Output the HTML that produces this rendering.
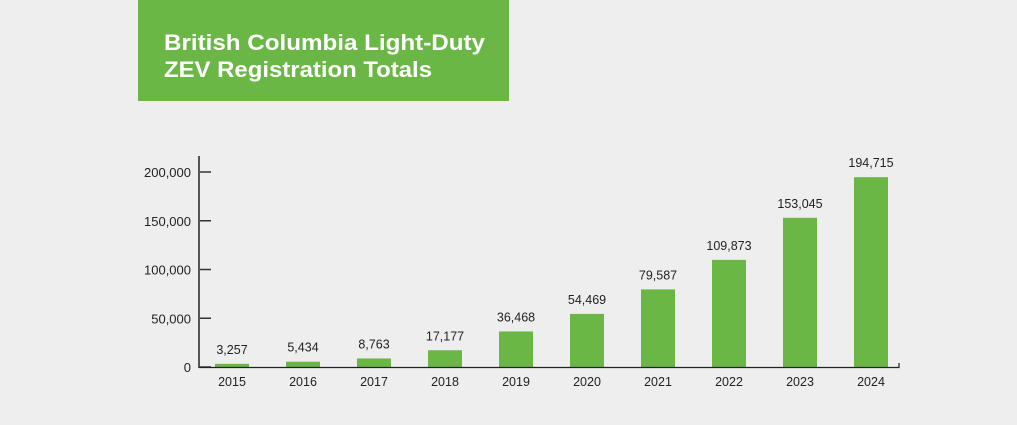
<!DOCTYPE html>
<html><head><meta charset="utf-8"><style>
html,body{margin:0;padding:0;background:#eeeeee;}
svg{display:block;font-family:"Liberation Sans",sans-serif;}
</style></head><body>
<svg width="1017" height="425" viewBox="0 0 1017 425">
<rect x="0" y="0" width="1017" height="425" fill="#eeeeee"/>
<g>
<rect x="138" y="0" width="371" height="101" fill="#6ab745"/>
<text x="164" y="50" font-size="22" font-weight="bold" fill="#fff" textLength="321" lengthAdjust="spacingAndGlyphs">British Columbia Light-Duty</text>
<text x="164" y="77" font-size="22" font-weight="bold" fill="#fff" textLength="268" lengthAdjust="spacingAndGlyphs">ZEV Registration Totals</text>
</g>
<g id="plot"></g>
</svg>
<script>
const years = ["2015","2016","2017","2018","2019","2020","2021","2022","2023","2024"];
const totals = [3257,5434,8763,17177,36468,54469,79587,109873,153045,194715];
const yTicks = [0,50000,100000,150000,200000];
const yTickLabels = ["0","50,000","100,000","150,000","200,000"];

const NS="http://www.w3.org/2000/svg";
const g=document.getElementById('plot');
const x0=199, y0=367, pxPerUnit=48.75/50000, step=71, firstCenter=232, barW=34;
const yScale=v=>y0-v*pxPerUnit;
const xScale=i=>firstCenter+i*step;
function mk(tag,attrs){const e=document.createElementNS(NS,tag);for(const k in attrs)e.setAttribute(k,attrs[k]);g.appendChild(e);return e;}

yTicks.forEach((t,i)=>{
  const y=yScale(t);
  const tk=mk('line',{x1:x0,x2:x0+12,y1:y,y2:y,stroke:'#333','stroke-width':1.5});
  
  
  const lb=mk('text',{x:191,y:y+5,'font-size':13,'text-anchor':'end',fill:'#222'});
  lb.textContent=yTickLabels[i];
  
  
});
totals.forEach((v,i)=>{
  const cx=xScale(i), top=yScale(v);
  const b=mk('rect',{x:cx-barW/2,y:top,width:barW,height:y0-top,fill:'#6ab745'});
  
  
  const vl=mk('text',{x:cx,y:top-10,'font-size':12.5,'text-anchor':'middle',fill:'#222'});
  vl.textContent=v.toLocaleString('en-US');
  
  
  const xl=mk('text',{x:cx,y:386,'font-size':12.5,'text-anchor':'middle',fill:'#222'});
  xl.textContent=years[i];
  
  
});
const ya=mk('line',{x1:x0,x2:x0,y1:156,y2:y0+1,stroke:'#555','stroke-width':2});


const xa=mk('path',{d:`M${x0} ${y0+0.5} H899 V${y0-4}`,stroke:'#222','stroke-width':1.2,fill:'none'});


</script>
</body></html>
